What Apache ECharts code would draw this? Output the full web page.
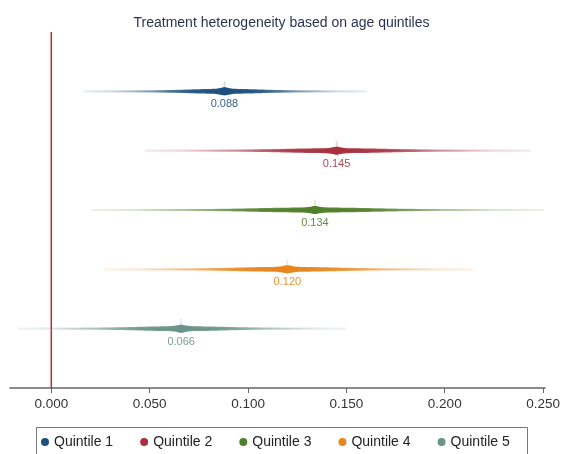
<!DOCTYPE html>
<html>
<head>
<meta charset="utf-8">
<script src="https://cdn.jsdelivr.net/npm/echarts@6/dist/echarts.min.js"></script>
<style>html,body{margin:0;padding:0;background:#fff;}#c{width:563px;height:454px;}</style>
</head>
<body>
<div id="c"></div>
<script>
const categories = ['Quintile 1', 'Quintile 2', 'Quintile 3', 'Quintile 4', 'Quintile 5'];
const estimates = [0.088, 0.145, 0.134, 0.120, 0.066];
const lower = [0.0165, 0.0475, 0.0202, 0.0269, -0.0169];
const upper = [0.1606, 0.2436, 0.2505, 0.2144, 0.1500];
const tickValues = [0, 0.05, 0.1, 0.15, 0.2, 0.25];
const colors = ['#1d4f7e', '#a8303f', '#4f7f2a', '#e8851b', '#6a9487'];

function rgba(hex, a) {
  const n = parseInt(hex.slice(1), 16);
  return 'rgba(' + ((n >> 16) & 255) + ',' + ((n >> 8) & 255) + ',' + (n & 255) + ',' + a + ')';
}

function makeRender(color) {
  return function (params, api) {
    const est = api.value(0), lo = api.value(1), hi = api.value(2), y = api.value(3);
    const pE = api.coord([est, y]);
    const pL = api.coord([lo, y]);
    const pH = api.coord([hi, y]);
    const span = pH[0] - pL[0];
    const f = (pE[0] - pL[0]) / span;
    const lineGrad = new echarts.graphic.LinearGradient(pL[0], 0, pH[0], 0, [
      { offset: 0, color: rgba(color, 0.1) },
      { offset: f * 0.5, color: rgba(color, 0.35) },
      { offset: f, color: rgba(color, 0.9) },
      { offset: f + (1 - f) * 0.5, color: rgba(color, 0.35) },
      { offset: 1, color: rgba(color, 0.1) }
    ], true);
    const W = Math.min(pE[0] - pL[0], pH[0] - pE[0]) * 0.8;
    const top = [], bot = [];
    const N = 80;
    for (let k = 0; k <= N; k++) {
      const d = -W + (2 * W * k) / N;
      const h = 0.6 + 1.9 * Math.exp(-Math.pow(d / (W * 0.5), 2)) + 1.4 * Math.exp(-Math.pow(d / 6, 2));
      top.push([pE[0] + d, pE[1] - h]);
      bot.unshift([pE[0] + d, pE[1] + h]);
    }
    const bandGrad = new echarts.graphic.LinearGradient(pE[0] - W, 0, pE[0] + W, 0, [
      { offset: 0, color: rgba(color, 0) },
      { offset: 0.2, color: rgba(color, 0.4) },
      { offset: 0.35, color: rgba(color, 0.85) },
      { offset: 0.5, color: rgba(color, 1) },
      { offset: 0.65, color: rgba(color, 0.85) },
      { offset: 0.8, color: rgba(color, 0.4) },
      { offset: 1, color: rgba(color, 0) }
    ], true);
    return {
      type: 'group',
      children: [
        { type: 'line', shape: { x1: pL[0], y1: pL[1], x2: pH[0], y2: pH[1] }, style: { stroke: lineGrad, lineWidth: 2.2 } },
        { type: 'polygon', shape: { points: top.concat(bot) }, style: { fill: bandGrad } },
        { type: 'line', shape: { x1: pE[0], y1: pE[1] - 10, x2: pE[0], y2: pE[1] }, style: { stroke: rgba(color, 0.22), lineWidth: 1.5 } },
        { type: 'circle', shape: { cx: pE[0], cy: pE[1], r: 4 }, style: { fill: color } },
        { type: 'text', x: pE[0], y: pE[1] + 13, style: { text: est.toFixed(3), fill: rgba(color, 0.9), font: '11px "Liberation Sans", Arial, sans-serif', align: 'center', verticalAlign: 'middle' } }
      ]
    };
  };
}

const series = categories.map((name, i) => ({
  name: name,
  type: 'custom',
  coordinateSystem: 'cartesian2d',
  itemStyle: { color: colors[i] },
  renderItem: makeRender(colors[i]),
  data: [[estimates[i], lower[i], upper[i], categories.length - i]],
  encode: { x: [0, 1, 2], y: 3 },
  silent: true
}));

series.push({
  name: 'zero',
  type: 'line',
  data: [[0, 0], [0, categories.length + 1]],
  symbol: 'none',
  lineStyle: { color: '#cc2236', width: 1.5 },
  silent: true,
  z: 1
});

const chart = echarts.init(document.getElementById('c'), null, { renderer: 'canvas' });
chart.setOption({
  animation: false,
  backgroundColor: '#fff',
  title: {
    text: 'Treatment heterogeneity based on age quintiles',
    left: 'center',
    top: 11,
    textStyle: { fontFamily: '"Liberation Sans", Arial, sans-serif', fontSize: 14, fontWeight: 'normal', color: '#2b3352' }
  },
  grid: { left: 10, right: 15, top: 32, bottom: 66, containLabel: false },
  xAxis: {
    type: 'value',
    min: -0.021,
    max: 0.251,
    splitLine: { show: false },
    axisLine: { show: true, onZero: false, lineStyle: { color: '#666', width: 1.5 } },
    axisTick: { show: true, length: 5, customValues: tickValues, lineStyle: { color: '#666' } },
    axisLabel: {
      customValues: tickValues,
      formatter: v => v.toFixed(3),
      fontFamily: '"Liberation Sans", Arial, sans-serif',
      fontSize: 13.5,
      color: '#333',
      margin: 9
    }
  },
  yAxis: {
    type: 'value',
    min: 0,
    max: categories.length + 1,
    show: false
  },
  legend: {
    data: categories.map(c => ({ name: c, icon: 'circle' })),
    left: 36,
    top: 435,
    padding: [0, 0, 0, 5],
    itemWidth: 8,
    itemHeight: 8,
    itemGap: 27,
    textStyle: { fontFamily: '"Liberation Sans", Arial, sans-serif', fontSize: 14, color: '#222' },
    selectedMode: false
  },
  graphic: [{
    type: 'rect',
    shape: { x: 36.5, y: 427.5, width: 491, height: 40 },
    style: { fill: 'none', stroke: '#777', lineWidth: 1 },
    silent: true
  }],
  series: series
});
</script>
</body>
</html>
